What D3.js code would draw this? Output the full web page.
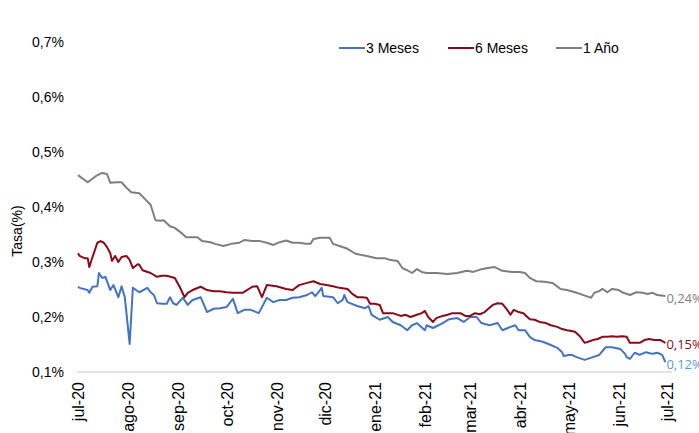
<!DOCTYPE html>
<html>
<head>
<meta charset="utf-8">
<script src="https://cdnjs.cloudflare.com/ajax/libs/d3/7.8.5/d3.min.js"></script>
<style>
  body { margin: 0; background: #fff; }
  svg { display: block; font-family: "Liberation Sans", Arial, sans-serif; }
</style>
</head>
<body>
<svg width="699" height="433"></svg>
<script>
// **** Data ****

var monthLabels = ["jul-20","ago-20","sep-20","oct-20","nov-20","dic-20","ene-21",
                   "feb-21","mar-21","abr-21","may-21","jun-21","jul-21"];

var yTicks = [0.1, 0.2, 0.3, 0.4, 0.5, 0.6, 0.7];

var seriesNames = ["3 Meses", "6 Meses", "1 Año"];

var tres = [
  ["2020-07-01",0.255],["2020-07-02",0.253],["2020-07-07",0.249],["2020-07-08",0.244],
  ["2020-07-10",0.255],["2020-07-13",0.256],["2020-07-14",0.280],["2020-07-16",0.271],
  ["2020-07-18",0.273],["2020-07-21",0.249],["2020-07-23",0.258],["2020-07-26",0.236],
  ["2020-07-28",0.256],["2020-07-30",0.236],["2020-08-02",0.151],["2020-08-04",0.253],
  ["2020-08-08",0.245],["2020-08-13",0.253],["2020-08-15",0.245],["2020-08-17",0.240],
  ["2020-08-19",0.225],["2020-08-22",0.224],["2020-08-25",0.224],["2020-08-27",0.236],
  ["2020-08-29",0.225],["2020-08-31",0.222],["2020-09-04",0.235],["2020-09-07",0.222],
  ["2020-09-10",0.231],["2020-09-15",0.236],["2020-09-19",0.209],["2020-09-23",0.215],
  ["2020-09-27",0.216],["2020-10-01",0.218],["2020-10-05",0.233],["2020-10-08",0.207],
  ["2020-10-12",0.213],["2020-10-16",0.213],["2020-10-21",0.207],["2020-10-23",0.218],
  ["2020-10-26",0.235],["2020-10-30",0.227],["2020-11-03",0.231],["2020-11-07",0.231],
  ["2020-11-11",0.235],["2020-11-15",0.236],["2020-11-20",0.240],["2020-11-23",0.245],
  ["2020-11-25",0.238],["2020-11-28",0.249],["2020-11-29",0.253],["2020-11-30",0.238],
  ["2020-12-06",0.236],["2020-12-09",0.225],["2020-12-12",0.231],["2020-12-13",0.240],
  ["2020-12-15",0.227],["2020-12-21",0.220],["2020-12-26",0.216],["2020-12-28",0.220],
  ["2020-12-30",0.204],["2021-01-04",0.195],["2021-01-09",0.200],["2021-01-12",0.191],
  ["2021-01-17",0.185],["2021-01-21",0.176],["2021-01-24",0.185],["2021-01-27",0.189],
  ["2021-02-01",0.176],["2021-02-02",0.185],["2021-02-06",0.180],["2021-02-12",0.189],
  ["2021-02-16",0.196],["2021-02-21",0.198],["2021-02-25",0.191],["2021-03-01",0.200],
  ["2021-03-05",0.200],["2021-03-08",0.189],["2021-03-13",0.185],["2021-03-18",0.189],
  ["2021-03-21",0.176],["2021-03-26",0.182],["2021-03-29",0.185],["2021-03-31",0.176],
  ["2021-04-04",0.176],["2021-04-07",0.164],["2021-04-10",0.158],["2021-04-15",0.155],
  ["2021-04-20",0.149],["2021-04-24",0.144],["2021-04-27",0.136],["2021-04-28",0.129],
  ["2021-05-01",0.131],["2021-05-03",0.131],["2021-05-06",0.127],["2021-05-11",0.122],
  ["2021-05-16",0.127],["2021-05-20",0.131],["2021-05-24",0.145],["2021-05-28",0.145],
  ["2021-06-02",0.142],["2021-06-05",0.133],["2021-06-06",0.127],["2021-06-08",0.124],
  ["2021-06-11",0.135],["2021-06-14",0.131],["2021-06-18",0.136],["2021-06-22",0.133],
  ["2021-06-25",0.135],["2021-06-28",0.131],["2021-06-30",0.118]
];

var seis = [
  ["2020-07-01",0.316],["2020-07-02",0.311],["2020-07-05",0.307],["2020-07-07",0.307],
  ["2020-07-08",0.291],["2020-07-10",0.309],["2020-07-13",0.335],["2020-07-15",0.338],
  ["2020-07-17",0.335],["2020-07-19",0.327],["2020-07-21",0.316],["2020-07-22",0.302],
  ["2020-07-24",0.311],["2020-07-26",0.300],["2020-07-28",0.309],["2020-07-31",0.311],
  ["2020-08-02",0.304],["2020-08-04",0.289],["2020-08-07",0.296],["2020-08-08",0.295],
  ["2020-08-10",0.285],["2020-08-15",0.280],["2020-08-19",0.273],["2020-08-22",0.275],
  ["2020-08-25",0.275],["2020-08-30",0.271],["2020-09-02",0.255],["2020-09-05",0.236],
  ["2020-09-07",0.244],["2020-09-10",0.249],["2020-09-15",0.255],["2020-09-19",0.249],
  ["2020-09-23",0.247],["2020-09-27",0.247],["2020-10-01",0.245],["2020-10-05",0.244],
  ["2020-10-11",0.244],["2020-10-17",0.255],["2020-10-20",0.256],["2020-10-23",0.236],
  ["2020-10-26",0.258],["2020-11-01",0.256],["2020-11-07",0.251],["2020-11-11",0.249],
  ["2020-11-15",0.258],["2020-11-20",0.262],["2020-11-24",0.265],["2020-11-28",0.260],
  ["2020-12-02",0.258],["2020-12-06",0.256],["2020-12-10",0.253],["2020-12-15",0.251],
  ["2020-12-18",0.242],["2020-12-21",0.236],["2020-12-24",0.236],["2020-12-27",0.235],
  ["2020-12-29",0.224],["2021-01-01",0.224],["2021-01-04",0.222],["2021-01-06",0.207],
  ["2021-01-12",0.207],["2021-01-17",0.202],["2021-01-20",0.204],["2021-01-23",0.200],
  ["2021-01-27",0.204],["2021-01-30",0.207],["2021-02-01",0.211],["2021-02-03",0.200],
  ["2021-02-06",0.191],["2021-02-08",0.198],["2021-02-12",0.202],["2021-02-15",0.204],
  ["2021-02-18",0.207],["2021-02-23",0.207],["2021-02-26",0.202],["2021-03-01",0.202],
  ["2021-03-04",0.207],["2021-03-07",0.205],["2021-03-10",0.209],["2021-03-15",0.222],
  ["2021-03-18",0.225],["2021-03-21",0.224],["2021-03-24",0.213],["2021-03-26",0.204],
  ["2021-03-28",0.213],["2021-03-31",0.209],["2021-04-03",0.207],["2021-04-07",0.196],
  ["2021-04-10",0.195],["2021-04-13",0.191],["2021-04-17",0.189],["2021-04-20",0.185],
  ["2021-04-24",0.182],["2021-04-27",0.178],["2021-04-30",0.176],["2021-05-02",0.175],
  ["2021-05-05",0.173],["2021-05-08",0.165],["2021-05-11",0.153],["2021-05-14",0.156],
  ["2021-05-16",0.158],["2021-05-19",0.160],["2021-05-22",0.164],["2021-05-25",0.164],
  ["2021-05-28",0.165],["2021-05-31",0.164],["2021-06-03",0.165],["2021-06-06",0.164],
  ["2021-06-08",0.153],["2021-06-11",0.153],["2021-06-14",0.153],["2021-06-17",0.158],
  ["2021-06-20",0.160],["2021-06-23",0.158],["2021-06-27",0.158],["2021-06-30",0.153]
];

var unAno = [
  ["2020-07-01",0.458],["2020-07-07",0.445],["2020-07-12",0.456],["2020-07-16",0.462],
  ["2020-07-19",0.460],["2020-07-21",0.444],["2020-07-25",0.445],["2020-07-28",0.445],
  ["2020-07-31",0.435],["2020-08-03",0.427],["2020-08-08",0.425],["2020-08-12",0.413],
  ["2020-08-15",0.404],["2020-08-18",0.376],["2020-08-21",0.375],["2020-08-23",0.376],
  ["2020-08-27",0.365],["2020-08-30",0.362],["2020-09-03",0.353],["2020-09-06",0.345],
  ["2020-09-13",0.345],["2020-09-16",0.338],["2020-09-21",0.336],["2020-09-24",0.333],
  ["2020-09-29",0.329],["2020-10-04",0.333],["2020-10-09",0.335],["2020-10-12",0.340],
  ["2020-10-17",0.338],["2020-10-22",0.338],["2020-10-26",0.335],["2020-10-30",0.331],
  ["2020-11-03",0.336],["2020-11-07",0.339],["2020-11-11",0.335],["2020-11-15",0.335],
  ["2020-11-19",0.333],["2020-11-22",0.333],["2020-11-24",0.342],["2020-11-28",0.344],
  ["2020-12-04",0.344],["2020-12-06",0.333],["2020-12-10",0.329],["2020-12-15",0.324],
  ["2020-12-20",0.315],["2020-12-23",0.313],["2020-12-27",0.311],["2021-01-02",0.307],
  ["2021-01-07",0.307],["2021-01-10",0.304],["2021-01-15",0.302],["2021-01-18",0.289],
  ["2021-01-21",0.285],["2021-01-24",0.280],["2021-01-27",0.287],["2021-01-30",0.282],
  ["2021-02-02",0.280],["2021-02-08",0.280],["2021-02-15",0.278],["2021-02-21",0.280],
  ["2021-02-27",0.284],["2021-03-03",0.282],["2021-03-08",0.287],["2021-03-12",0.289],
  ["2021-03-16",0.291],["2021-03-21",0.284],["2021-03-27",0.282],["2021-04-01",0.282],
  ["2021-04-04",0.280],["2021-04-07",0.271],["2021-04-11",0.265],["2021-04-16",0.264],
  ["2021-04-21",0.262],["2021-04-26",0.251],["2021-04-30",0.249],["2021-05-05",0.245],
  ["2021-05-08",0.242],["2021-05-12",0.238],["2021-05-15",0.235],["2021-05-17",0.244],
  ["2021-05-20",0.247],["2021-05-22",0.251],["2021-05-25",0.245],["2021-05-28",0.251],
  ["2021-06-01",0.249],["2021-06-04",0.244],["2021-06-08",0.240],["2021-06-12",0.245],
  ["2021-06-16",0.244],["2021-06-19",0.242],["2021-06-22",0.244],["2021-06-25",0.240],
  ["2021-06-30",0.238]
];

var endLabels = ["0,12%", "0,15%", "0,24%"];

// **** Scales ****

var parseDate = d3.timeParse("%Y-%m-%d");

var xScale = d3.scaleTime()
    .domain([new Date(2020, 6, 1), new Date(2021, 6, 1)])
    .range([78, 667]);

var yScale = d3.scaleLinear()
    .domain([0.1, 0.7]).range([372, 42]);

var svg = d3.select("svg");

// **** Axes ****

svg.append("g")
    .attr("class", "y axis")
    .attr("transform", "translate(77,0)")
    .call(d3.axisLeft(yScale).tickValues(yTicks).tickSize(0).tickPadding(13)
        .tickFormat(function(d){ return d.toFixed(1).replace(".", ",") + "%"; }))
    .call(function(g){ g.select(".domain").remove(); })
    .selectAll("text")
    .attr("font-family", "'Liberation Sans', Arial, sans-serif")
    .attr("font-size", "14px")
    .attr("fill", "#000");

svg.append("line")
    .attr("x1", 77).attr("x2", 672)
    .attr("y1", yScale(0.1)).attr("y2", yScale(0.1))
    .attr("stroke", "#d9d9d9")
    .attr("stroke-width", 1.5);

var months = d3.timeMonth.range(new Date(2020, 6, 1), new Date(2021, 6, 2));

svg.append("g")
    .attr("class", "x axis")
    .attr("transform", "translate(0,372)")
    .call(d3.axisBottom(xScale).tickValues(months).tickSize(0)
        .tickFormat(function(d, i){ return monthLabels[i]; }))
    .call(function(g){ g.select(".domain").remove(); })
    .selectAll("text")
    .attr("font-family", "'Liberation Sans', Arial, sans-serif")
    .attr("font-size", "16px")
    .attr("fill", "#000")
    .attr("text-anchor", "end")
    .attr("transform", "rotate(-90)")
    .attr("x", -10)
    .attr("y", 0)
    .attr("dy", "0.35em");

svg.append("text")
    .attr("transform", "translate(22,231) rotate(-90)")
    .attr("text-anchor", "middle")
    .attr("font-size", "14px")
    .text("Tasa(%)");

// **** Lines ****

var colors = ["#4472c4", "#8b0a1a", "#7f7f7f"];
var labelColors = ["#5b9bd5", "#8b0a1a", "#7f7f7f"];
var allSeries = [tres, seis, unAno];

var line = d3.line()
    .x(function(d){ return xScale(parseDate(d[0])); })
    .y(function(d){ return yScale(d[1]); });

allSeries.forEach(function(s, i){
    svg.append("path")
        .datum(s)
        .attr("d", line)
        .attr("fill", "none")
        .attr("stroke", colors[i])
        .attr("stroke-width", 2)
        .attr("stroke-linejoin", "round");

    var last = s[s.length - 1];
    svg.append("text")
        .attr("x", xScale(parseDate(last[0])) + 1)
        .attr("y", yScale(last[1]) + 2)
        .attr("dy", "0.35em")
        .attr("font-family", "'Open Sans', sans-serif")
        .attr("font-size", "13px")
        .attr("fill", labelColors[i])
        .text(endLabels[i]);
});

// **** Legend ****

var legendX = [339, 448, 556];

seriesNames.forEach(function(name, i){
    svg.append("line")
        .attr("x1", legendX[i]).attr("x2", legendX[i] + 26)
        .attr("y1", 48).attr("y2", 48)
        .attr("stroke", colors[i])
        .attr("stroke-width", 2);
    svg.append("text")
        .attr("x", legendX[i] + 27)
        .attr("y", 48)
        .attr("dy", "0.35em")
        .attr("font-size", "14px")
        .text(name);
});
</script>
</body>
</html>
